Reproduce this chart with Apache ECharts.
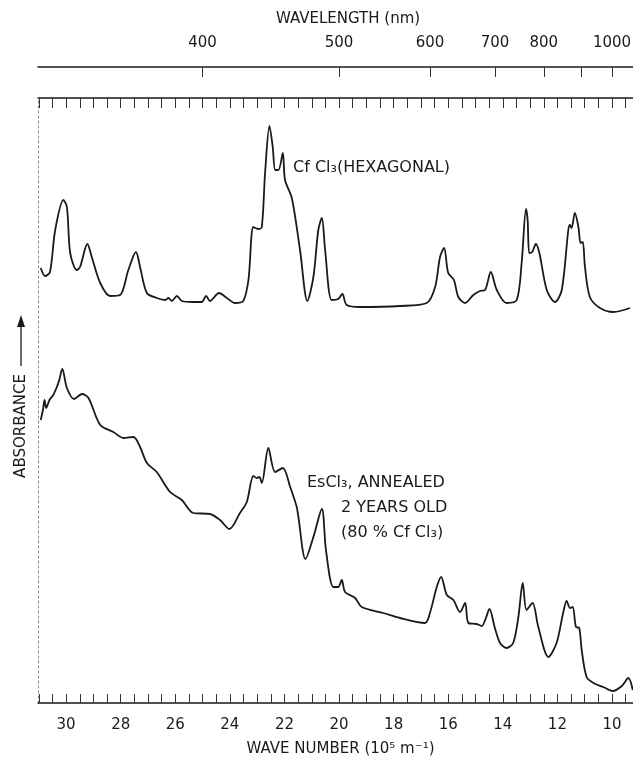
<!DOCTYPE html>
<html lang="en" style="height: 100%">

<head>
  <meta charset="utf-8">
</head>

<body style="height: 100%; margin: 0; background: #fff">
  <div id="container" style="width: 633px; height: 758px"></div>

  <script type="text/javascript" src="https://fastly.jsdelivr.net/npm/echarts@6.0.0/dist/echarts.min.js"></script>

  <script type="text/javascript">
    // wave number (10^5 m^-1) tick labels on the bottom axis
    var wnLabels = [30, 28, 26, 24, 22, 20, 18, 16, 14, 12, 10];
    // wavelength (nm) ticks and labels on the top axis
    var wlTicks = [400, 500, 600, 700, 800, 900, 1000];
    var wlLabels = [400, 500, 600, 700, 800, 1000];

    // CfCl3 (hexagonal) spectrum (arbitrary absorbance units)
    var cfWave = [30.93, 30.77, 30.59, 30.40, 30.10, 29.97, 29.85, 29.61, 29.49, 29.22, 29.06, 28.75, 28.39, 28.02,
      27.72, 27.44, 27.29, 27.04, 26.68, 26.37, 26.25, 26.13, 25.94, 25.76, 25.34, 25.03, 24.87, 24.73, 24.40,
      24.11, 23.81, 23.51, 23.32, 23.14, 22.96, 22.83, 22.71, 22.55, 22.43, 22.34, 22.22, 22.06, 21.98, 21.73,
      21.43, 21.16, 20.94, 20.76, 20.63, 20.51, 20.27, 20.03, 19.88, 19.72, 19.23, 17.77, 16.79, 16.48, 16.30,
      16.15, 16.00, 15.79, 15.63, 15.38, 15.08, 14.84, 14.65, 14.44, 14.22, 13.86, 13.49, 13.31, 13.15, 13.09,
      13.03, 12.92, 12.79, 12.66, 12.39, 12.09, 11.84, 11.60, 11.54, 11.48, 11.36, 11.23, 11.15, 11.07, 10.99,
      10.81, 10.44, 9.95, 9.34];
    var cfAbs = [4.33, 4.25, 4.29, 4.71, 5.01, 4.94, 4.48, 4.31, 4.34, 4.57, 4.44, 4.18, 4.05, 4.06,
      4.31, 4.49, 4.34, 4.08, 4.03, 4.01, 4.03, 4.00, 4.05, 4.00, 3.99, 3.99, 4.05, 4.00, 4.08,
      4.03, 3.98, 4.00, 4.21, 4.74, 4.72, 4.74, 5.28, 5.75, 5.54, 5.31, 5.31, 5.48, 5.21, 5.03,
      4.51, 4.00, 4.24, 4.71, 4.83, 4.51, 4.01, 4.02, 4.07, 3.96, 3.94, 3.95, 3.98, 4.14, 4.44,
      4.53, 4.28, 4.21, 4.04, 3.98, 4.06, 4.10, 4.11, 4.29, 4.11, 3.98, 4.01, 4.38, 4.92, 4.81,
      4.48, 4.49, 4.57, 4.48, 4.11, 3.99, 4.11, 4.71, 4.76, 4.73, 4.88, 4.74, 4.58, 4.59, 4.34,
      4.04, 3.93, 3.89, 3.93];

    // EsCl3, annealed, 2 years old (80 % CfCl3)
    var esWave = [30.93, 30.85, 30.79, 30.73, 30.61, 30.47, 30.34, 30.25, 30.14, 29.97, 29.71, 29.42, 29.18, 28.75,
      28.27, 27.90, 27.53, 27.29, 27.04, 26.68, 26.19, 25.76, 25.34, 24.73, 24.36, 24.02, 23.63, 23.38, 23.14,
      23.01, 22.92, 22.83, 22.59, 22.34, 22.06, 21.79, 21.55, 21.49, 21.23, 20.94, 20.63, 20.48, 20.21, 20.03,
      19.90, 19.78, 19.41, 19.17, 18.38, 17.77, 16.85, 16.67, 16.42, 16.26, 16.05, 15.81, 15.57, 15.38, 15.26,
      14.96, 14.77, 14.62, 14.49, 14.29, 14.10, 13.86, 13.62, 13.43, 13.27, 13.13, 12.91, 12.70, 12.33, 12.03,
      11.79, 11.66, 11.54, 11.44, 11.32, 11.20, 11.11, 10.93, 10.68, 10.32, 9.97, 9.64, 9.40, 9.24];
    var esAbs = [2.81, 2.91, 3.01, 2.93, 3.01, 3.06, 3.14, 3.21, 3.32, 3.13, 3.02, 3.07, 3.03, 2.76,
      2.69, 2.63, 2.64, 2.54, 2.38, 2.29, 2.09, 2.01, 1.88, 1.87, 1.81, 1.72, 1.88, 1.99, 2.25,
      2.23, 2.24, 2.18, 2.53, 2.29, 2.33, 2.14, 1.94, 1.84, 1.42, 1.64, 1.92, 1.51, 1.14, 1.14,
      1.21, 1.09, 1.03, 0.94, 0.88, 0.83, 0.78, 0.88, 1.14, 1.24, 1.06, 1.01, 0.89, 0.98, 0.78,
      0.77, 0.75, 0.83, 0.92, 0.73, 0.58, 0.53, 0.58, 0.84, 1.18, 0.91, 0.98, 0.74, 0.44, 0.58,
      0.88, 1.00, 0.93, 0.94, 0.74, 0.73, 0.51, 0.24, 0.18, 0.14, 0.10, 0.15, 0.23, 0.11];

    var FONT = 'DejaVu Sans';
    var INK = '#1a1a1a';

    // minor ticks every 0.5 along the wave number axis
    var wnTicks = [];
    for (var t = 31; t >= 9.5; t -= 0.5) wnTicks.push(t);

    var dom = document.getElementById('container');
    var myChart = echarts.init(dom, null, { renderer: 'canvas' });

    var option = {
      animation: false,
      backgroundColor: '#fff',
      grid: { left: 38, right: 0, top: 98, bottom: 55, outerBoundsMode: 'none', containLabel: false },
      xAxis: [
        {
          type: 'value',
          position: 'bottom',
          inverse: true,
          min: 9.23,
          max: 31.03,
          name: 'WAVE NUMBER (10\u2075 m\u207B\u00B9)',
          nameLocation: 'middle',
          nameGap: 39,
          nameTextStyle: { fontFamily: FONT, fontSize: 15, color: INK, padding: [0, 0, 0, 10] },
          axisLine: { show: true, onZero: false, lineStyle: { color: INK, width: 1.5 } },
          axisTick: { show: true, inside: true, length: 9, customValues: wnTicks, lineStyle: { color: '#333', width: 1 } },
          axisLabel: {
            customValues: wnLabels, margin: 15,
            fontFamily: FONT, fontSize: 15, color: INK
          },
          splitLine: { show: false }
        },
        {
          type: 'value',
          position: 'top',
          inverse: true,
          min: 9.23,
          max: 31.03,
          axisLine: { show: true, onZero: false, lineStyle: { color: INK, width: 1.5 } },
          axisTick: { show: true, inside: true, length: 10, customValues: wnTicks, lineStyle: { color: '#333', width: 1 } },
          axisLabel: { show: false },
          splitLine: { show: false }
        },
        {
          type: 'value',
          position: 'top',
          offset: 31,
          inverse: true,
          min: 9.23,
          max: 31.03,
          name: 'WAVELENGTH (nm)',
          nameLocation: 'middle',
          nameGap: 40,
          nameTextStyle: { fontFamily: FONT, fontSize: 15, color: INK, padding: [0, 0, 0, 25] },
          axisLine: { show: true, onZero: false, lineStyle: { color: INK, width: 1.5 } },
          axisTick: {
            show: true, inside: true, length: 10,
            customValues: wlTicks.map(function (l) { return 1e4 / l; }),
            lineStyle: { color: '#333', width: 1 }
          },
          axisLabel: {
            customValues: wlLabels.map(function (l) { return 1e4 / l; }),
            formatter: function (v) { return String(Math.round(1e4 / v)); },
            margin: 16, fontFamily: FONT, fontSize: 15, color: INK
          },
          splitLine: { show: false }
        }
      ],
      yAxis: {
        type: 'value',
        min: -0.02,
        max: 6.03,
        axisLine: { show: true, onZero: false, lineStyle: { color: '#888', width: 1, type: [2, 3] } },
        axisTick: { show: false },
        axisLabel: { show: false },
        splitLine: { show: false }
      },
      series: [
        {
          name: 'CfCl3',
          type: 'line',
          xAxisIndex: 0,
          showSymbol: false,
          smooth: 0.3,
          lineStyle: { color: INK, width: 1.8 },
          data: cfWave.map(function (w, i) { return [w, cfAbs[i]]; })
        },
        {
          name: 'EsCl3',
          type: 'line',
          xAxisIndex: 0,
          showSymbol: false,
          smooth: 0.3,
          lineStyle: { color: INK, width: 1.8 },
          data: esWave.map(function (w, i) { return [w, esAbs[i]]; })
        }
      ],
      graphic: [
        {
          type: 'text', x: 21, y: 426, rotation: Math.PI / 2,
          style: { text: 'ABSORBANCE', font: '15px "DejaVu Sans"', fill: INK, align: 'center', verticalAlign: 'middle' }
        },
        { type: 'line', shape: { x1: 21, y1: 366, x2: 21, y2: 324 }, style: { stroke: INK, lineWidth: 1.3 } },
        { type: 'polygon', shape: { points: [[17, 327], [25, 327], [21, 315]] }, style: { fill: INK } },
        {
          type: 'text', x: 293, y: 168,
          style: { text: 'Cf Cl\u2083(HEXAGONAL)', font: '16px "DejaVu Sans"', fill: INK, align: 'left', verticalAlign: 'middle' }
        },
        {
          type: 'text', x: 307, y: 483,
          style: { text: 'EsCl\u2083, ANNEALED', font: '16px "DejaVu Sans"', fill: INK, align: 'left', verticalAlign: 'middle' }
        },
        {
          type: 'text', x: 341, y: 508,
          style: { text: '2 YEARS OLD', font: '16px "DejaVu Sans"', fill: INK, align: 'left', verticalAlign: 'middle' }
        },
        {
          type: 'text', x: 341, y: 533,
          style: { text: '(80 % Cf Cl\u2083)', font: '16px "DejaVu Sans"', fill: INK, align: 'left', verticalAlign: 'middle' }
        }
      ]
    };

    myChart.setOption(option);
    window.addEventListener('resize', myChart.resize);
  </script>
</body>

</html>
